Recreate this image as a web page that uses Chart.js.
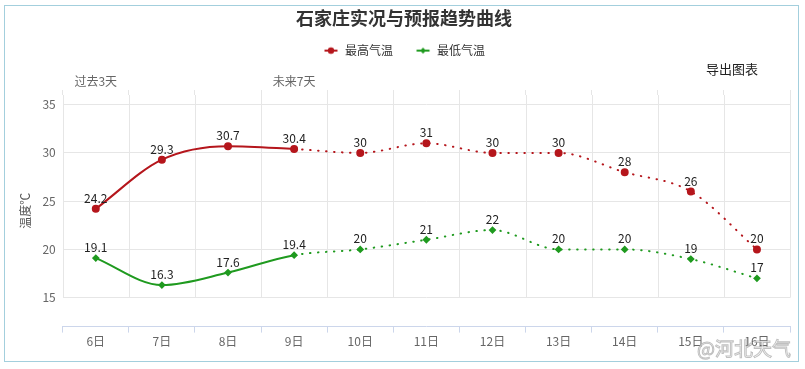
<!DOCTYPE html>
<html>
<head>
<meta charset="utf-8">
<script src="https://cdn.jsdelivr.net/npm/chart.js@4"></script>
<style>
  body { margin: 0; background: #fff; }
  #wrap { position: relative; width: 805px; height: 369px; }
  #frame { position: absolute; left: 4px; top: 5px; width: 795px; height: 357px; border: 1px solid #a3cfdd; box-sizing: border-box; pointer-events: none; }
  #export { position: absolute; left: 706px; top: 59px; font: 13px "Noto Sans CJK SC", sans-serif; color: #222; }
  #mark { position: absolute; left: 697px; top: 334px; font: 19px "Noto Sans CJK SC", sans-serif; color: rgba(255,255,255,0.75);
          -webkit-text-stroke: 1px rgba(140,140,140,0.55); }
</style>
</head>
<body>
<div id="wrap">
  <canvas id="chart" width="805" height="369"></canvas>
  <div id="frame"></div>
  <span id="export">导出图表</span>
  <span id="mark">@河北天气</span>
</div>
<script>
const days = ["6日", "7日", "8日", "9日", "10日", "11日", "12日", "13日", "14日", "15日", "16日"];
const topLabels = ["过去3天", "", "", "未来7天", "", "", "", "", "", "", ""];
const highTemps = [24.2, 29.3, 30.7, 30.4, 30, 31, 30, 30, 28, 26, 20];
const lowTemps = [19.1, 16.3, 17.6, 19.4, 20, 21, 22, 20, 20, 19, 17];
const yTicks = [15, 20, 25, 30, 35];
const pastCount = 4; // 6日-9日 solid, rest is forecast (dotted)

const red = "#b5161c";
const green = "#1f9a1f";
Chart.defaults.font.family = '"Noto Sans CJK SC", "Noto Sans", sans-serif';

function legendIcon(color, diamond) {
  const c = document.createElement("canvas");
  c.width = 16;
  c.height = 10;
  const g = c.getContext("2d");
  g.strokeStyle = color;
  g.fillStyle = color;
  g.lineWidth = 2;
  g.beginPath();
  g.moveTo(1.5, 5);
  g.lineTo(14.5, 5);
  g.stroke();
  g.beginPath();
  if (diamond) {
    g.moveTo(8, 2); g.lineTo(11, 5); g.lineTo(8, 8); g.lineTo(5, 5);
  } else {
    g.arc(8, 5, 3.2, 0, Math.PI * 2);
  }
  g.fill();
  return c;
}

const forecastDash = ctx => ctx.p0DataIndex >= pastCount - 1 ? [0.5, 7.5] : undefined;

// vertical grid only down to the 15 line, like the original
const columnGrid = {
  id: "columnGrid",
  beforeDatasetsDraw(chart) {
    const x = chart.scales.x, y = chart.scales.y;
    const ctx = chart.ctx;
    const half = (x.getPixelForValue(1) - x.getPixelForValue(0)) / 2;
    const bottom = y.getPixelForValue(15);
    ctx.save();
    ctx.strokeStyle = "#e6e6e6";
    ctx.lineWidth = 1;
    for (let i = 0; i <= days.length; i++) {
      const px = Math.round(x.getPixelForValue(i) - half) + 0.5;
      ctx.beginPath();
      ctx.moveTo(px, chart.chartArea.top);
      ctx.lineTo(px, bottom);
      ctx.stroke();
    }
    ctx.restore();
  }
};

const valueLabels = {
  id: "valueLabels",
  afterDatasetsDraw(chart) {
    const ctx = chart.ctx;
    ctx.save();
    ctx.font = '12px "Noto Sans CJK SC", sans-serif';
    ctx.fillStyle = "#222";
    ctx.textAlign = "center";
    ctx.textBaseline = "alphabetic";
    chart.data.datasets.forEach((ds, di) => {
      chart.getDatasetMeta(di).data.forEach((pt, i) => {
        ctx.fillText(String(ds.data[i]), pt.x, pt.y - 6);
      });
    });
    ctx.restore();
  }
};

new Chart(document.getElementById("chart"), {
  type: "line",
  data: {
    labels: days,
    datasets: [
      {
        label: "最高气温",
        data: highTemps,
        borderColor: red,
        backgroundColor: red,
        borderWidth: 2,
        borderCapStyle: "round",
        pointRadius: 3,
        pointHoverRadius: 3,
        pointStyle: "circle",
        cubicInterpolationMode: "monotone",
        segment: { borderDash: forecastDash }
      },
      {
        label: "最低气温",
        data: lowTemps,
        borderColor: green,
        backgroundColor: green,
        borderWidth: 2,
        borderCapStyle: "round",
        pointRadius: 2.5,
        pointHoverRadius: 2.5,
        pointStyle: "rectRot",
        cubicInterpolationMode: "monotone",
        segment: { borderDash: forecastDash }
      }
    ]
  },
  options: {
    responsive: false,
    animation: false,
    layout: { padding: { top: 3, left: 18, right: 15, bottom: 18 } },
    plugins: {
      title: {
        display: true,
        text: "石家庄实况与预报趋势曲线",
        color: "#333",
        font: { size: 18, weight: "bold" },
        padding: { top: 4, bottom: 6 }
      },
      legend: {
        labels: {
          color: "#333",
          font: { size: 12 },
          usePointStyle: true,
          pointStyleWidth: 16,
          padding: 10,
          generateLabels(chart) {
            return chart.data.datasets.map((ds, i) => ({
              // ideographic space widens the gap between the two items
              text: i === 0 ? ds.label + "\u3000" : ds.label,
              pointStyle: legendIcon(ds.borderColor, i === 1),
              fillStyle: ds.borderColor,
              strokeStyle: ds.borderColor,
              lineWidth: 0,
              fontColor: "#333",
              datasetIndex: i,
              hidden: false
            }));
          }
        }
      },
      tooltip: { enabled: false }
    },
    scales: {
      x: {
        offset: true,
        grid: { offset: true, drawOnChartArea: false, color: "#ccd6eb", tickLength: 6 },
        border: { display: true, color: "#ccd6eb" },
        ticks: { color: "#666", font: { size: 12 }, padding: 2, maxRotation: 0, autoSkip: false }
      },
      x2: {
        type: "category",
        position: "top",
        labels: topLabels,
        offset: true,
        grid: { offset: true, drawOnChartArea: false, color: "#e6e6e6", tickLength: 5 },
        border: { display: false },
        ticks: { color: "#666", font: { size: 12 }, padding: 1, maxRotation: 0, autoSkip: false },
        afterFit(scale) { scale.height += 7; }
      },
      y: {
        min: 12,
        max: 36,
        afterBuildTicks(scale) { scale.ticks = yTicks.map(v => ({ value: v })); },
        grid: { color: "#e6e6e6", drawTicks: false },
        border: { display: false },
        ticks: { color: "#666", font: { size: 12 }, padding: 7 },
        title: { display: true, text: "温度℃", color: "#555", font: { size: 12 }, padding: { top: 0, bottom: 3 } }
      }
    }
  },
  plugins: [columnGrid, valueLabels]
});
</script>
</body>
</html>
